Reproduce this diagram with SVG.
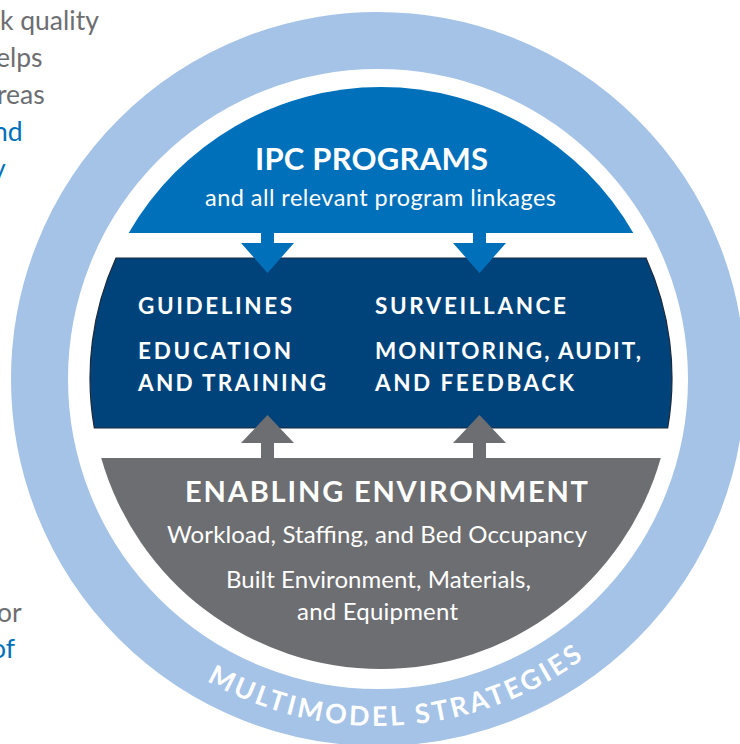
<svg xmlns="http://www.w3.org/2000/svg" width="740" height="744" viewBox="0 0 740 744">
<defs>
<style>
.side{font-family:"Lato","Open Sans",sans-serif;font-size:26.5px}
.gray{fill:#6D6E71}
.blue{fill:#0070BA}
.hd{font-family:"Lato","Open Sans",sans-serif;font-weight:700;fill:#fff}
.bd{font-family:"Lato","Open Sans",sans-serif;fill:#fff}
</style>
<path id="arcText" d="M31,379 A347,347 0 0 0 725,379"/>
</defs>
<rect width="740" height="744" fill="#fff"/>
<g id="sidetext">
<text class="side gray" x="0" y="30">k quality</text>
<text class="side gray" x="-4" y="67">elps</text>
<text class="side gray" x="-3" y="104">reas</text>
<text class="side blue" x="-7" y="141">nd</text>
<text class="side blue" x="-8" y="178">y</text>
<text class="side gray" x="-3" y="622">or</text>
<text class="side blue" x="-9" y="658">of</text>
</g>
<g id="ring">
<circle cx="378" cy="379" r="338.5" fill="none" stroke="#A5C3E6" stroke-width="57"/>
<text class="hd" font-size="27" letter-spacing="3"><textPath href="#arcText" startOffset="52%" text-anchor="middle">MULTIMODEL STRATEGIES</textPath></text>
</g>
<g id="ipc-programs">
<path d="M128.7,233 A291,291 0 0 1 633.3,233 Z" fill="#0070BA"/>
<text class="hd" x="255" y="170" font-size="31" textLength="233" lengthAdjust="spacing">IPC PROGRAMS</text>
<text class="bd" x="205" y="206" font-size="23.5" textLength="351" lengthAdjust="spacing">and all relevant program linkages</text>
</g>
<g id="core">
<path d="M116,258 L646,258 A291,291 0 0 1 667.7,428 L94.3,428 A291,291 0 0 1 116,258 Z" fill="#00437B" stroke="#1E2A3A" stroke-width="1.2"/>
<text class="hd" x="138" y="314" font-size="22.5" textLength="154" lengthAdjust="spacing">GUIDELINES</text>
<text class="hd" x="138" y="359" font-size="22.5" textLength="153" lengthAdjust="spacing">EDUCATION</text>
<text class="hd" x="138" y="391" font-size="22.5" textLength="188" lengthAdjust="spacing">AND TRAINING</text>
<text class="hd" x="375" y="314" font-size="22.5" textLength="191" lengthAdjust="spacing">SURVEILLANCE</text>
<text class="hd" x="375" y="359" font-size="22.5" textLength="266" lengthAdjust="spacing">MONITORING, AUDIT,</text>
<text class="hd" x="375" y="391" font-size="22.5" textLength="199" lengthAdjust="spacing">AND FEEDBACK</text>
</g>
<g id="enabling-environment">
<path d="M101.2,458 L660.8,458 A291,291 0 0 1 101.2,458 Z" fill="#6D6E71"/>
<text class="hd" x="185" y="502" font-size="29" textLength="403" lengthAdjust="spacing">ENABLING ENVIRONMENT</text>
<text class="bd" x="167" y="543" font-size="24" textLength="420" lengthAdjust="spacing">Workload, Staffing, and Bed Occupancy</text>
<text class="bd" x="226" y="588" font-size="24" textLength="305" lengthAdjust="spacing">Built Environment, Materials,</text>
<text class="bd" x="297" y="620" font-size="24" textLength="161" lengthAdjust="spacing">and Equipment</text>
</g>
<g id="connectors">
<path d="M261,232 H274 V243 H294 L267.5,273 L241,243 H261 Z" fill="#0070BA"/>
<path d="M473,232 H486 V243 H506 L479.5,273 L453,243 H473 Z" fill="#0070BA"/>
<path d="M261,459 H274 V443 H294 L267.5,415 L241,443 H261 Z" fill="#6D6E71"/>
<path d="M473,459 H486 V443 H506 L479.5,415 L453,443 H473 Z" fill="#6D6E71"/>
</g>
</svg>
